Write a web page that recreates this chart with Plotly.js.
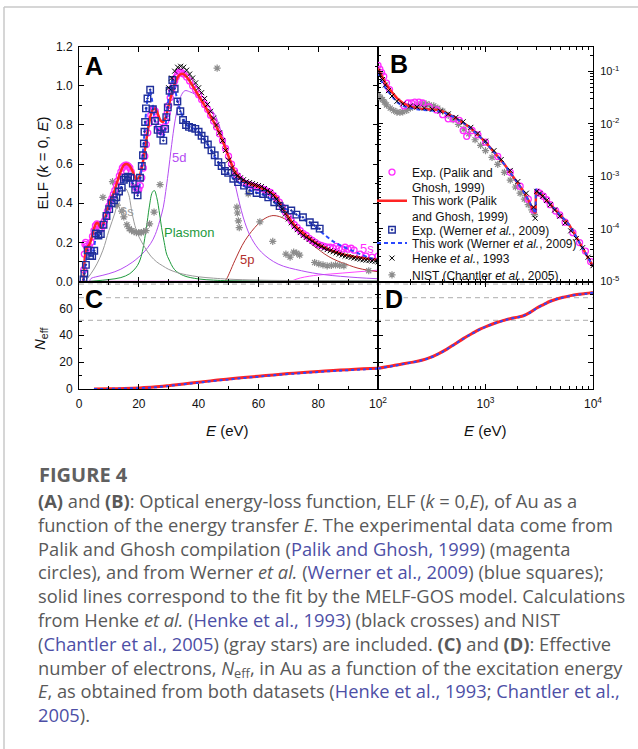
<!DOCTYPE html>
<html><head><meta charset="utf-8">
<script src="https://cdn.plot.ly/plotly-3.0.1.min.js"></script>
<style>html,body{margin:0;padding:0;background:#fff;}#chart{width:638px;height:749px;}</style>
</head><body><div id="chart"></div>
<script>
// ---------------- DATA ----------------
// Panel A: Palik & Ghosh experimental ELF (magenta circles)
const palikE = [1.6,1.8,2.0,2.2,2.5,3.0,3.5,4.0,4.5,5.0,
 5.5,6.0,6.5,7.0,7.5,8.0,8.5,9.0,9.5,10,
 10.5,11,11.5,12,12.5,13,13.5,14,14.5,15,
 15.5,16,16.5,17,17.5,18,18.5,19,19.5,20,
 20.5,21,21.5,22,22.5,23,23.5,24,24.5,25,
 25.5,26,26.5,27,27.5,28,28.5,29,29.5,30,
 30.5,31,31.5,32,32.5,33,33.5,34,34.5,35,
 36,37,38,39,40,41,42,43,44,45,
 46,47,48,49,50,51,52,53,54,55,
 56,57,58,59,60,61,62,63,64,65,
 66,67,68,69,70,71,72,73,74,75,
 76,77,78,79,80,81,82,83,84,85,
 86,87,88,89,90,91,92,94,96,98,
 100];
const palikELF = [0.06,0.14,0.19,0.20,0.18,0.17,0.18,0.20,0.23,0.26,
 0.285,0.295,0.29,0.275,0.27,0.285,0.31,0.335,0.36,0.385,
 0.41,0.425,0.445,0.465,0.49,0.515,0.54,0.56,0.58,0.59,
 0.595,0.595,0.59,0.58,0.56,0.53,0.50,0.48,0.465,0.47,
 0.49,0.53,0.58,0.64,0.70,0.76,0.81,0.85,0.875,0.88,
 0.87,0.83,0.79,0.77,0.765,0.775,0.79,0.82,0.86,0.90,
 0.94,0.975,1.0,1.025,1.045,1.06,1.07,1.07,1.065,1.06,
 1.045,1.025,1.0,0.98,0.955,0.93,0.905,0.88,0.85,0.82,
 0.79,0.755,0.72,0.68,0.64,0.60,0.565,0.54,0.52,0.505,
 0.50,0.495,0.49,0.485,0.48,0.475,0.47,0.46,0.455,0.44,
 0.425,0.405,0.38,0.355,0.33,0.31,0.29,0.275,0.26,0.245,
 0.235,0.22,0.21,0.20,0.19,0.185,0.18,0.175,0.175,0.17,
 0.18,0.17,0.165,0.175,0.165,0.17,0.16,0.14,0.13,0.125,
 0.13];
// Panel A: MELF-GOS fit to Palik (red line)
const fitPalikE = [1.5,2,2.5,3,3.5,4,4.5,5,5.5,6,
 6.5,7,7.5,8,9,10,11,12,13,14,
 15,16,17,18,19,20,21,22,23,24,
 25,26,27,28,29,30,31,32,33,34,
 35,36,37,38,39,40,42,44,46,48,
 50,52,54,56,58,60,62,64,66,68,
 70,72,74,76,78,80,82,84,86,88,
 90,92,94,96,98,100];
const fitPalikELF = [0.0,0.13,0.17,0.18,0.19,0.21,0.24,0.27,0.29,0.30,
 0.295,0.28,0.275,0.29,0.34,0.39,0.43,0.47,0.52,0.565,
 0.595,0.60,0.59,0.56,0.525,0.53,0.58,0.67,0.77,0.85,
 0.885,0.87,0.83,0.815,0.84,0.90,0.96,1.01,1.045,1.06,
 1.06,1.045,1.025,1.0,0.975,0.95,0.90,0.845,0.79,0.72,
 0.64,0.565,0.525,0.505,0.495,0.485,0.47,0.455,0.43,0.38,
 0.33,0.29,0.26,0.235,0.21,0.19,0.175,0.16,0.15,0.14,
 0.133,0.127,0.122,0.118,0.115,0.113];
// Panel A: Werner et al. experimental ELF (blue squares)
const wernerE = [1.5,1.8,2.3,2.9,3.7,4.4,5.1,5.6,6.5,7.3,
 8.2,9.2,10.1,10.9,11.7,12.5,13.4,14.3,15.0,15.6,
 16.4,17.2,18.0,18.8,19.6,20.4,21.0,21.4,21.7,21.9,
 22.1,22.4,22.9,23.8,24.7,25.4,26.3,27.2,28.2,28.8,
 29.2,29.7,30.3,31.2,32.0,32.9,33.9,34.8,35.8,36.8,
 37.8,38.9,40.0,41.0,42.0,43.1,44.3,45.4,46.6,47.7,
 48.8,49.9,51.6,53.2,55.2,57.1,59.4,61.6,63.3,65.3,
 67.1,68.8,71.0,72.7,74.9,77.2,78.8,80.5];
const wernerELF = [0.01,0.04,0.085,0.16,0.13,0.13,0.157,0.245,0.235,0.243,
 0.29,0.335,0.37,0.40,0.415,0.43,0.46,0.48,0.52,0.53,
 0.535,0.53,0.50,0.47,0.44,0.53,0.59,0.645,0.705,0.765,
 0.815,0.885,0.935,0.98,0.88,0.82,0.775,0.755,0.72,0.78,
 0.84,0.89,0.975,1.03,0.985,0.92,0.87,0.825,0.80,0.79,
 0.785,0.78,0.765,0.745,0.725,0.70,0.67,0.645,0.61,0.59,
 0.565,0.555,0.525,0.508,0.49,0.465,0.452,0.447,0.43,0.405,
 0.385,0.372,0.363,0.342,0.328,0.303,0.286,0.27];
// Panel A: MELF-GOS fit to Werner (blue dashed)
const fitWernerE = [1.5,2,2.5,3,4,5,5.5,6,7,8,
 9,10,11,12,13,14,15,16,17,18,
 19,19.8,20.5,21,21.5,22,22.5,23,23.8,24.5,
 25.3,26,27,28,28.7,29.3,30,31,31.5,32,
 33,34,35,36,38,40,42,44,46,48,
 50,52,55,58,61,64,67,70,73,76,
 79,82,85,88,91,94,97,100];
const fitWernerELF = [0,0.07,0.12,0.14,0.135,0.17,0.22,0.24,0.24,0.28,
 0.33,0.37,0.40,0.42,0.45,0.48,0.515,0.535,0.53,0.50,
 0.46,0.45,0.52,0.59,0.68,0.78,0.88,0.94,0.975,0.92,
 0.83,0.785,0.76,0.735,0.76,0.85,0.94,1.02,1.025,0.99,
 0.92,0.87,0.83,0.80,0.785,0.765,0.725,0.675,0.62,0.58,
 0.55,0.52,0.49,0.46,0.447,0.42,0.385,0.365,0.34,0.31,
 0.28,0.24,0.205,0.18,0.16,0.14,0.122,0.11];
// Panel A: Henke (black crosses)
const henkeE = [30,31,32,33,34,35,36,37,38,39,
 40,41,42,43,44,45,46,47,48,49,
 50,51,52,53,54,55,56,57,58,59,
 60,61,62,63,64,65,66,67,68,69,
 70,71,72,73,74,75,76,77,78,79,
 80,81,82,83,84,85,86,87,88,89,
 90,91,92,93,94,95,96,97,98,99,
 100];
const henkeELF = [0.99,1.04,1.075,1.095,1.10,1.095,1.08,1.06,1.04,1.015,
 0.99,0.965,0.935,0.905,0.87,0.835,0.80,0.76,0.72,0.67,
 0.62,0.58,0.555,0.54,0.53,0.52,0.51,0.505,0.50,0.495,
 0.49,0.485,0.475,0.465,0.455,0.44,0.42,0.395,0.37,0.345,
 0.32,0.30,0.28,0.265,0.25,0.235,0.225,0.215,0.205,0.195,
 0.185,0.178,0.17,0.163,0.157,0.152,0.146,0.14,0.135,0.13,
 0.127,0.123,0.12,0.117,0.114,0.111,0.109,0.107,0.105,0.103,
 0.10];
// Panel A: NIST (gray stars)
const nistE = [8.0,11.2,12.8,14.3,15.0,16.0,16.8,17.6,18.4,19.2,
 20.0,20.8,21.6,22.4,23.6,25.1,27.1,46.2,52.8,53.0,
 53.3,53.6,56.6,60.5,64.8,69.2,70.6,71.8,72.8,73.8,
 78.8,80.2,81.6,83.0,84.4,85.8,87.2,88.6,96.9];
const nistELF = [0.43,0.51,0.39,0.36,0.33,0.29,0.27,0.26,0.255,0.25,
 0.25,0.25,0.255,0.26,0.295,0.355,0.495,1.09,0.38,0.35,
 0.31,0.275,0.448,0.305,0.205,0.14,0.125,0.15,0.145,0.135,
 0.097,0.09,0.085,0.08,0.082,0.085,0.082,0.08,0.055];
// Panel A: MELF-GOS components
const s6E = [2,4,6,8,10,12,13.5,15.5,16.5,17.8,19,20,22,24,26,28,30,33,36,40,45,50,60,80,100];
const s6ELF = [0,0.04,0.09,0.16,0.26,0.35,0.43,0.475,0.45,0.345,0.27,0.23,0.175,0.13,0.1,0.08,0.062,0.045,0.034,0.024,0.017,0.012,0.007,0.004,0.002];
const plasmonE = [3,6,10,14,17,19,20,21,22.5,23.5,24.5,25.2,26,27,27.6,28.5,29.3,30,32,35,40,45,50,60,80,100];
const plasmonELF = [0,0.004,0.01,0.02,0.04,0.07,0.095,0.14,0.27,0.38,0.455,0.465,0.43,0.34,0.277,0.2,0.14,0.115,0.06,0.03,0.013,0.007,0.004,0.003,0.002,0.002];
const d5E = [3.5,4,6,8,10,12,14,16,18,20,22,24,25.5,27,28.2,29,29.8,31,32,33,34,35.4,37,39,41,43,45.4,47,48.8,51,53.2,55.5,57.7,61,66.6,74.4,82,93,100];
const d5ELF = [0,0.015,0.025,0.032,0.04,0.05,0.063,0.08,0.1,0.125,0.155,0.195,0.24,0.31,0.38,0.46,0.55,0.70,0.81,0.89,0.945,0.975,0.97,0.955,0.935,0.9,0.855,0.79,0.71,0.585,0.43,0.30,0.22,0.15,0.089,0.055,0.035,0.02,0.014];
const p5E = [48.5,49.3,50.5,52.1,55.5,59.9,62.5,64.9,67,68.8,71,73.3,75.5,77.7,80,82.2,85,87.8,90.5,93.3,96.5,100];
const p5ELF = [0,0.012,0.05,0.106,0.209,0.294,0.325,0.337,0.332,0.32,0.295,0.26,0.225,0.192,0.165,0.14,0.115,0.097,0.082,0.068,0.058,0.05];
const s5E = [71,72,74,77,80,84,88,92,96,100];
const s5ELF = [0,0.008,0.018,0.027,0.033,0.038,0.043,0.048,0.053,0.058];
const innerE = [0,100];
const innerELF = [0,0];

// Panel B (log-log)
const fitPalikBE = [100,110,120,135,150,170,200,250,300,350,400,450,500,600,700,800,1000,1200,1500,1800,2200,2500,2800,2920,2950,3050,3300,3500,4000,4500,5000,6000,7000,8000,9000,10000];
const fitPalikBELF = [0.113,0.075,0.055,0.04,0.031,0.025,0.021,0.0195,0.019,0.0185,0.0172,0.0155,0.0138,0.011,0.0088,0.0069,0.0045,0.0029,0.0017,0.001,5.6e-4,3.6e-4,2.2e-4,2.0e-4,5.2e-4,5.0e-4,4.6e-4,4.0e-4,2.95e-4,2.3e-4,1.8e-4,1.2e-4,7.0e-5,4.3e-5,2.8e-5,1.95e-5];
const fitWernerBE = [100,110,120,135,150,170,200,250,300,350,400,450,500,600,700,800,1000,1200,1500,1800,2200,2500,2800,2920,2945,2990,3100,3300,3500,4000,4500,5000,6000,7000,8000,9000,10000];
const fitWernerBELF = [0.093,0.06,0.045,0.033,0.026,0.022,0.02,0.0185,0.018,0.0178,0.0168,0.0153,0.0137,0.011,0.0088,0.0069,0.0045,0.0029,0.0017,0.001,5.6e-4,3.6e-4,2.2e-4,1.95e-4,5.8e-4,5.2e-4,4.9e-4,4.6e-4,4.0e-4,2.95e-4,2.3e-4,1.8e-4,1.2e-4,7.0e-5,4.3e-5,2.8e-5,1.95e-5];
const palikBE = [100,104,108,113,120,128,175,190,205,220,240,260,300,350,400,450,500,570,620,669,750,850,1000,1300,1700,2100,2500,2800,3050,3200,3450,3700,4000,4500,4900,5500,6500,7500,8500,9500];
const palikBELF = [0.13,0.11,0.095,0.08,0.06,0.045,0.022,0.025,0.025,0.026,0.026,0.025,0.021,0.0185,0.015,0.0125,0.0125,0.0117,0.0075,0.0058,0.0075,0.0062,0.0045,0.0024,0.0012,6.5e-4,3.7e-4,2.3e-4,5e-4,4.8e-4,4.2e-4,3.6e-4,2.9e-4,2.2e-4,1.85e-4,1.35e-4,8.5e-5,5.5e-5,3.8e-5,2.4e-5];
const henkeBE = [100,105,110,117,125,135,150,170,200,230,270,320,380,450,530,620,730,850,1000,1200,1400,1700,2000,2400,2800,2900,3000,3200,3400,3700,4000,4400,4900,5500,6200,7000,8000,9000,10000];
const henkeBELF = [0.1,0.085,0.07,0.055,0.043,0.034,0.027,0.024,0.022,0.021,0.02,0.019,0.0175,0.0155,0.0133,0.011,0.0086,0.0066,0.0047,0.0031,0.0021,0.0013,8e-4,4.8e-4,2.6e-4,1.6e-4,5.2e-4,4.7e-4,4.2e-4,3.5e-4,2.9e-4,2.3e-4,1.75e-4,1.3e-4,9.2e-5,6.6e-5,4.4e-5,2.9e-5,2.0e-5];
const nistBE = [100,105,110,115,120,130,140,150,160,170,185,200,220,240,260,280,300,330,360,400,450,500,560,630,700,800,900,1000,1150,1300,1500,1700,1900,2100,2300,2500,2700,2850];
const nistBELF = [0.036,0.032,0.029,0.026,0.023,0.02,0.018,0.0168,0.0165,0.017,0.018,0.02,0.022,0.023,0.024,0.024,0.023,0.022,0.02,0.0175,0.0145,0.012,0.0098,0.008,0.0065,0.005,0.0039,0.0031,0.0023,0.0017,0.0012,8.5e-4,6.3e-4,4.8e-4,3.7e-4,2.9e-4,2.3e-4,1.9e-4];

// Panels C and D: effective number of electrons
const neffCE = [5,10,15,20,25,30,35,40,45,50,55,60,65,70,75,80,85,90,95,100];
const neffPalikC = [0,0.1,0.4,0.8,1.4,2.5,3.8,5.0,6.3,7.4,8.5,9.5,10.5,11.5,12.3,13.1,13.8,14.4,15.0,15.5];
const neffWernerC = [0,0.1,0.35,0.7,1.2,2.3,3.6,4.7,6.0,7.1,8.2,9.2,10.2,11.1,11.9,12.7,13.4,14.0,14.6,15.2];
const neffDE = [100,130,160,212,260,303,360,434,520,621,750,889,1050,1271,1500,1693,2000,2254,2600,3000,3500,4000,4600,5320,6200,7100,8500,10000];
const neffPalikD = [15.5,17.0,18.3,20.0,21.6,23.3,26.0,29.5,33.5,37.5,41.3,44.5,47.0,49.5,51.2,52.3,53.5,54.5,57.0,60.3,63.0,65.3,67.0,68.3,69.5,70.3,71.0,71.8];
const neffWernerD = [15.2,16.8,18.1,19.9,21.5,23.2,25.9,29.4,33.4,37.4,41.2,44.4,46.9,49.4,51.1,52.2,53.4,54.4,56.9,60.2,62.9,65.2,66.9,68.2,69.4,70.2,70.9,71.7];
const neffRefLines = [78, 68, 51];

// Tick labels
const linTicksC = [0,20,40,60,80];
const linTickTextC = ['0','20','40','60','80'];
const neffTicks = [0,20,40,60];
const logTicksE = [100,1000,10000];
const logTickTextE = ['10<sup>2</sup>','10<sup>3</sup>','10<sup>4</sup>'];
const logTicksELF = [1e-5,1e-4,1e-3,1e-2,1e-1];
const logTickTextELF = ['10<sup>-5</sup>','10<sup>-4</sup>','10<sup>-3</sup>','10<sup>-2</sup>','10<sup>-1</sup>'];

// ---------------- FIGURE ----------------
const FONT = 'Liberation Sans, Arial, Helvetica, sans-serif';
const CFONT = 'Open Sans, Noto Sans, sans-serif';
const W = 638, H = 749;
const px = v => v / W;
const py = v => (H - v) / H;
const LINK = '#4d4fa6';
const lk = t => '<span style="color:' + LINK + '">' + t + '</span>';

function minorLog(lo, hi, maxV) {
  const out = [];
  for (let d = lo; d < hi; d++) for (let m = 2; m <= 9; m++) {
    const v = m * Math.pow(10, d);
    if (maxV === undefined || v <= maxV) out.push(v);
  }
  return out;
}

const xA = [px(79), px(378)], xB = [px(378), px(593)];
const yTop = [py(281.5), py(46.7)], yBot = [py(389), py(281.5)];

function ax(extra) {
  return Object.assign({
    showline: true, linecolor: '#000', linewidth: 1, mirror: 'allticks',
    ticks: 'inside', ticklen: 5, tickwidth: 1, tickcolor: '#000',
    showgrid: false, zeroline: false, fixedrange: true,
    tickfont: {family: FONT, size: 12, color: '#111'}
  }, extra);
}
const minorLin = d => ({tickmode: 'linear', tick0: 0, dtick: d, ticks: 'inside', ticklen: 3, tickcolor: '#000'});
const minorArr = v => ({tickmode: 'array', tickvals: v, ticks: 'inside', ticklen: 3, tickcolor: '#000'});

function sc(x, y, xa, ya, o) {
  return Object.assign({type: 'scatter', x: x, y: y, xaxis: xa, yaxis: ya, showlegend: false, hoverinfo: 'skip'}, o);
}
const RED = '#ff2424', BLUE = '#2a48ff', MAG = '#ff2bff', SQ = '#1f2f9a', GRAY = '#8c8c8c';

const traces = [
  sc(innerE, innerELF, 'x', 'y', {mode: 'lines', line: {color: '#e040e0', width: 1.5}}),
  sc(s5E, s5ELF, 'x', 'y', {mode: 'lines', line: {color: '#ff45ff', width: 1, shape: 'spline'}}),
  sc(p5E, p5ELF, 'x', 'y', {mode: 'lines', line: {color: '#b3302d', width: 1, shape: 'spline'}}),
  sc(d5E, d5ELF, 'x', 'y', {mode: 'lines', line: {color: '#b44cf2', width: 1, shape: 'spline'}}),
  sc(plasmonE, plasmonELF, 'x', 'y', {mode: 'lines', line: {color: '#1e9a3c', width: 1, shape: 'spline'}}),
  sc(s6E, s6ELF, 'x', 'y', {mode: 'lines', line: {color: '#9a9a9a', width: 1, shape: 'spline'}}),
  sc(nistE, nistELF, 'x', 'y', {mode: 'markers', name: 'NIST (Chantler <i>et al.</i>, 2005)', showlegend: true, legend: 'legend6',
    marker: {symbol: 'asterisk-open', size: 6, color: GRAY, line: {color: GRAY, width: 1.2}}}),
  sc(palikE, palikELF, 'x', 'y', {mode: 'markers', name: 'Exp. (Palik and<br>Ghosh, 1999)', showlegend: true, legend: 'legend',
    marker: {symbol: 'circle-open', size: 6, color: MAG, line: {color: MAG, width: 1.3}}}),
  sc(fitPalikE, fitPalikELF, 'x', 'y', {mode: 'lines', name: 'This work (Palik<br>and Ghosh, 1999)', showlegend: true, legend: 'legend2',
    line: {color: RED, width: 2.5, shape: 'spline', smoothing: 0.6}}),
  sc(fitWernerE, fitWernerELF, 'x', 'y', {mode: 'lines', name: 'This work (Werner <i>et al.</i>, 2009)', showlegend: true, legend: 'legend4',
    line: {color: BLUE, width: 2, dash: '4px,3px', shape: 'spline', smoothing: 0.5}}),
  sc(wernerE, wernerELF, 'x', 'y', {mode: 'markers', name: 'Exp. (Werner <i>et al.</i>, 2009)', showlegend: true, legend: 'legend3',
    marker: {symbol: 'square-open-dot', size: 6.5, color: SQ, line: {color: SQ, width: 1.4}}}),
  sc(henkeE, henkeELF, 'x', 'y', {mode: 'markers', name: 'Henke <i>et al.</i>, 1993', showlegend: true, legend: 'legend5',
    marker: {symbol: 'x-thin-open', size: 5, color: '#000', line: {color: '#000', width: 1}}}),
  sc(nistBE, nistBELF, 'x2', 'y2', {mode: 'markers', marker: {symbol: 'asterisk-open', size: 6, color: GRAY, line: {color: GRAY, width: 1.2}}}),
  sc(palikBE, palikBELF, 'x2', 'y2', {mode: 'markers', marker: {symbol: 'circle-open', size: 6, color: MAG, line: {color: MAG, width: 1.3}}}),
  sc(fitPalikBE, fitPalikBELF, 'x2', 'y2', {mode: 'lines', line: {color: RED, width: 2.5}}),
  sc(fitWernerBE, fitWernerBELF, 'x2', 'y2', {mode: 'lines', line: {color: BLUE, width: 2, dash: '4px,3px'}}),
  sc(henkeBE, henkeBELF, 'x2', 'y2', {mode: 'markers', marker: {symbol: 'x-thin-open', size: 5, color: '#000', line: {color: '#000', width: 1}}}),
  sc(neffCE, neffPalikC, 'x3', 'y3', {mode: 'lines', line: {color: RED, width: 3, shape: 'spline'}}),
  sc(neffCE, neffWernerC, 'x3', 'y3', {mode: 'lines', line: {color: BLUE, width: 2, dash: 'dot', shape: 'spline'}}),
  sc(neffDE, neffPalikD, 'x4', 'y4', {mode: 'lines', line: {color: RED, width: 3, shape: 'spline'}}),
  sc(neffDE, neffWernerD, 'x4', 'y4', {mode: 'lines', line: {color: BLUE, width: 2, dash: 'dot', shape: 'spline'}})
];

function lg(top) {
  return {x: px(372), xanchor: 'left', y: py(top), yanchor: 'top', bgcolor: 'rgba(0,0,0,0)', borderwidth: 0,
    font: {family: FONT, size: 12, color: '#111'}, itemwidth: 30, valign: 'top', tracegroupgap: 0};
}

const ann = [];
function A(o) { ann.push(Object.assign({showarrow: false, xref: 'paper', yref: 'paper', xanchor: 'center', yanchor: 'middle'}, o)); }
const letterFont = {family: FONT, size: 25, color: '#000', weight: 'bold'};
A({text: '<b>A</b>', x: px(94), y: py(66), font: letterFont});
A({text: '<b>B</b>', x: px(399), y: py(64), font: letterFont});
A({text: '<b>C</b>', x: px(94), y: py(299), font: letterFont, bgcolor: '#fff', borderpad: 0});
A({text: '<b>D</b>', x: px(394), y: py(299), font: letterFont, bgcolor: '#fff', borderpad: 0});
function L(t, x, y, c) { ann.push({text: t, x: x, y: y, xref: 'x', yref: 'y', xanchor: 'center', yanchor: 'middle', showarrow: false, font: {family: FONT, size: 13, color: c}}); }
L('6s', 15.9, 0.36, '#9a9a9a');
L('Plasmon', 36.8, 0.25, '#1e9a3c');
L('5d', 33.4, 0.635, '#b44cf2');
L('5p', 56.1, 0.115, '#b3302d');
L('5s', 96.4, 0.171, '#ff2bff');
A({text: 'ELF (<i>k</i> = 0, <i>E</i>)', x: px(42), y: py(163.5), textangle: -90, font: {family: FONT, size: 15, color: '#111'}});
A({text: '<i>N</i><sub>eff</sub>', x: px(40), y: py(339), textangle: -90, font: {family: FONT, size: 15, color: '#111'}});
A({text: '<i>E</i> (eV)', x: px(228), y: py(430), font: {family: FONT, size: 15, color: '#111'}});
A({text: '<i>E</i> (eV)', x: px(485), y: py(430), font: {family: FONT, size: 15, color: '#111'}});
// caption
const captionBody = [
 '<b>(A)</b> and <b>(B)</b>: Optical energy-loss function, ELF (<i>k</i> = 0,<i>E</i>), of Au as a',
 'function of the energy transfer <i>E</i>. The experimental data come from',
 'Palik and Ghosh compilation (' + lk('Palik and Ghosh, 1999') + ') (magenta',
 'circles), and from Werner <i>et al.</i> (' + lk('Werner et al., 2009') + ') (blue squares);',
 'solid lines correspond to the fit by the MELF-GOS model. Calculations',
 'from Henke <i>et al.</i> (' + lk('Henke et al., 1993') + ') (black crosses) and NIST',
 '(' + lk('Chantler et al., 2005') + ') (gray stars) are included. <b>(C)</b> and <b>(D)</b>: Effective',
 'number of electrons, <i>N</i><sub>eff</sub>, in Au as a function of the excitation energy',
 '<i>E</i>, as obtained from both datasets (' + lk('Henke et al., 1993') + '; ' + lk('Chantler et al.,'),
 lk('2005') + ').'
].join('<br>');
A({text: '<b>FIGURE 4</b>', x: px(37), y: py(474), xanchor: 'left', yanchor: 'middle', font: {family: CFONT, size: 20, color: '#606060'}});
A({text: captionBody, x: px(37), y: py(487), xanchor: 'left', yanchor: 'top', align: 'left', borderpad: 0,
  font: {family: CFONT, size: 18.3, color: '#595959'}});

const shapes = [
  {type: 'line', xref: 'paper', yref: 'paper', x0: px(4), x1: 1, y0: py(7), y1: py(7), line: {color: '#c9c9c9', width: 1.5}},
  {type: 'line', xref: 'paper', yref: 'paper', x0: px(4), x1: px(4), y0: py(7), y1: 0, line: {color: '#c9c9c9', width: 1.5}}
];
neffRefLines.forEach(v => shapes.push({type: 'line', xref: 'paper', yref: 'y3', x0: xA[0], x1: xB[1], y0: v, y1: v,
  layer: 'below', line: {color: '#bdbdbd', width: 1.3, dash: '5px,4px'}}));

const layout = {
  width: W, height: H, margin: {l: 0, r: 0, t: 0, b: 0},
  paper_bgcolor: '#fff', plot_bgcolor: 'rgba(0,0,0,0)',
  font: {family: FONT, size: 12, color: '#111'},
  xaxis: ax({domain: xA, anchor: 'y', range: [0, 100], tickmode: 'linear', tick0: 0, dtick: 20, showticklabels: false, minor: minorLin(10)}),
  yaxis: ax({domain: yTop, anchor: 'x', range: [0, 1.2], tickmode: 'linear', tick0: 0, dtick: 0.2, tickformat: '.1f', minor: minorLin(0.1), ticklabelstandoff: 3}),
  xaxis2: ax({domain: xB, anchor: 'y2', type: 'log', range: [2, 4], tickmode: 'array', tickvals: logTicksE, showticklabels: false, minor: minorArr(minorLog(2, 4))}),
  yaxis2: ax({domain: yTop, anchor: 'x2', type: 'log', range: [-5, -0.53], side: 'right', tickmode: 'array', tickvals: logTicksELF, ticktext: logTickTextELF,
    minor: minorArr(minorLog(-5, 0, 0.3)), ticklabelstandoff: 4, tickfont: {family: FONT, size: 11, color: '#111'}}),
  xaxis3: ax({domain: xA, anchor: 'y3', range: [0, 100], tickmode: 'array', tickvals: linTicksC, ticktext: linTickTextC, minor: minorLin(10), ticklabelstandoff: 4}),
  yaxis3: ax({domain: yBot, anchor: 'x3', range: [0, 80], tickmode: 'array', tickvals: neffTicks, minor: minorLin(10), ticklabelstandoff: 3}),
  xaxis4: ax({domain: xB, anchor: 'y4', type: 'log', range: [2, 4], tickmode: 'array', tickvals: logTicksE, ticktext: logTickTextE, minor: minorArr(minorLog(2, 4)), ticklabelstandoff: 4}),
  yaxis4: ax({domain: yBot, anchor: 'x4', range: [0, 80], tickmode: 'linear', tick0: 0, dtick: 20, showticklabels: false, minor: minorLin(10)}),
  legend: lg(157.8), legend2: lg(186.5), legend3: lg(215.5), legend4: lg(228.8), legend5: lg(243.8), legend6: lg(260.5),
  annotations: ann, shapes: shapes
};

Plotly.newPlot('chart', traces, layout, {staticPlot: true, displayModeBar: false});
</script></body></html>
